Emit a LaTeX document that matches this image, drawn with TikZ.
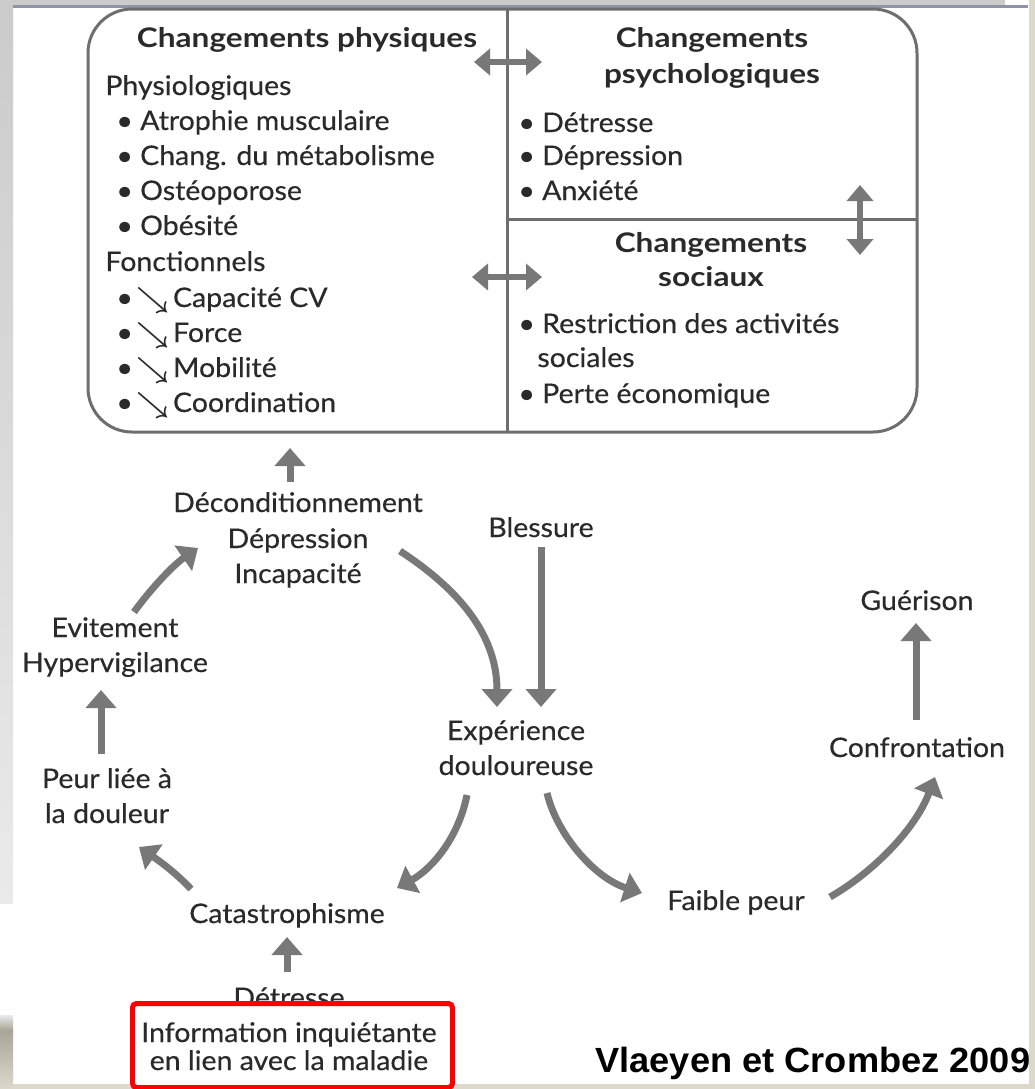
\documentclass[tikz,border=0pt]{standalone}
\usepackage{fontspec}
\setmainfont{Lato}[UprightFeatures={FakeStretch=1.055,FakeBold=0.4}, BoldFeatures={FakeStretch=1.17}]
\newfontfamily\citefont{Liberation Sans}[BoldFeatures={FakeStretch=1.035}]
\usetikzlibrary{arrows.meta}
\definecolor{txt}{HTML}{2A2A2A}
\definecolor{arr}{HTML}{787878}
\definecolor{frame}{HTML}{6E6E6E}
\definecolor{stripgrey}{HTML}{CBCBCB}
\definecolor{stripgreylight}{HTML}{EAEAEA}
\definecolor{barblue}{HTML}{8C94A6}
\definecolor{beige}{HTML}{DDD8CC}
\definecolor{beigedark}{HTML}{A9A597}
% bullet followed by a "decrease" arrow
\newcommand{\dnbullet}{•\kern2pt{\boldmath$\searrow$}\kern1.5pt}
\begin{document}
\begin{tikzpicture}[x=0.5pt,y=-0.5pt,
  lbl/.style={inner sep=0pt, text=txt, font=\fontsize{13.5}{16}\selectfont},
  lblc/.style={lbl, anchor=base},
  lblw/.style={lbl, anchor=base west},
  hdr/.style={lbl, anchor=base, font=\fontsize{13.5}{16}\selectfont\bfseries},
  flow/.style={draw=arr, line width=3.5pt, -{Triangle[width=15pt,length=9pt]}},
  twoway/.style={draw=arr, line width=3pt, {Triangle[width=13pt,length=8pt]}-{Triangle[width=13pt,length=8pt]}},
]
\useasboundingbox (0,0) rectangle (1035,1089);
% page background and window edges
\fill[white] (0,0) rectangle (1035,1089);
\shade[top color=stripgrey, bottom color=stripgreylight] (0,0) rectangle (13,903);
\fill[stripgrey] (0,0) rectangle (1005,5);
\fill[barblue] (13,5) rectangle (1028,8);
\shade[top color=stripgreylight, bottom color=beigedark] (0,1015) rectangle (13,1030);
\shade[top color=beigedark, bottom color=beige] (0,1030) rectangle (13,1089);

% framed panel with three compartments
\draw[frame, line width=1.5pt, rounded corners=22pt] (88,9) rectangle (917,432);
\draw[frame, line width=1.5pt] (507,9) -- (507,432);
\draw[frame, line width=1.5pt] (507,219) -- (917,219);

% physical changes
\node[hdr] (phys) at (307,47) {Changements physiques};
\node[lblw] (physio) at (105,95) {Physiologiques};
\node[lblw] (p1) at (116,130) {• Atrophie musculaire};
\node[lblw] (p2) at (116,165) {• Chang. du métabolisme};
\node[lblw] (p3) at (116,200) {• Ostéoporose};
\node[lblw] (p4) at (116,235) {• Obésité};
\node[lblw] (fonct) at (105,271) {Fonctionnels};
\node[lblw] (f1) at (116,307) {\dnbullet Capacité CV};
\node[lblw] (f2) at (116,342) {\dnbullet Force};
\node[lblw] (f3) at (116,377) {\dnbullet Mobilité};
\node[lblw] (f4) at (116,412) {\dnbullet Coordination};

% psychological changes
\node[hdr] (psyA) at (712,47) {Changements};
\node[hdr] (psyB) at (712,83) {psychologiques};
\node[lblw] (s1) at (518,132) {• Détresse};
\node[lblw] (s2) at (518,165) {• Dépression};
\node[lblw] (s3) at (518,200) {• Anxiété};

% social changes
\node[hdr] (socA) at (711,252) {Changements};
\node[hdr] (socB) at (711,286) {sociaux};
\node[lblw] (c1) at (518,333) {• Restriction des activités};
\node[lblw] (c1b) at (537,367) {sociales};
\node[lblw] (c2) at (518,403) {• Perte économique};

% links between compartments
\coordinate (hA1) at (474,62); \coordinate (hA2) at (542,62);
\coordinate (hB1) at (472,277); \coordinate (hB2) at (542,277);
\coordinate (vA1) at (860,185); \coordinate (vA2) at (860,255);
\draw[twoway] (hA1) -- (hA2);
\draw[twoway] (hB1) -- (hB2);
\draw[twoway] (vA1) -- (vA2);

% fear-avoidance cycle
\node[lblc] (decA) at (298,512) {Déconditionnement};
\node[lblc] (decB) at (298,548) {Dépression};
\node[lblc] (decC) at (298,583) {Incapacité};
\node[lblc] (bles) at (541,537) {Blessure};
\node[lblc] (evitA) at (115,637) {Evitement};
\node[lblc] (evitB) at (115,672) {Hypervigilance};
\node[lblc] (peurA) at (107,788) {Peur liée à};
\node[lblc] (peurB) at (107,823) {la douleur};
\node[lblc] (expA) at (516,740) {Expérience};
\node[lblc] (expB) at (516,775) {douloureuse};
\node[lblc] (gue) at (917,610) {Guérison};
\node[lblc] (conf) at (917,757) {Confrontation};
\node[lblc] (faib) at (736,910) {Faible peur};
\node[lblc] (cata) at (287,923) {Catastrophisme};
\node[lblc] (detr) at (289,1007) {Détresse};

% arrow end points
\coordinate (decUp0) at (290,482);   \coordinate (decUp1) at (290,448);
\coordinate (blesT) at (541,547);    \coordinate (blesH) at (541,707);
\coordinate (decT) at (400,551);     \coordinate (expH) at (497,707);
\coordinate (evitT) at (134,612);    \coordinate (decH) at (198,548);
\coordinate (peurT) at (101,754);    \coordinate (evitH) at (101,690);
\coordinate (cataT) at (191,889);    \coordinate (peurH) at (139,847);
\coordinate (expT1) at (467,795);    \coordinate (cataH) at (397,888);
\coordinate (expT2) at (547,793);    \coordinate (faibH) at (642,893);
\coordinate (faibT) at (830,897);    \coordinate (confH) at (935,777);
\coordinate (confT) at (916,720);    \coordinate (gueH) at (916,623);
\coordinate (detrT) at (287,972);    \coordinate (cataH2) at (287,937);

\draw[flow] (decUp0) -- (decUp1);
\draw[flow] (blesT) -- (blesH);
\draw[flow] (decT) .. controls (452,585) and (497,630) .. (expH);
\draw[flow] (evitT) .. controls (150,590) and (172,566) .. (decH);
\draw[flow] (peurT) -- (evitH);
\draw[flow] (cataT) .. controls (175,872) and (158,860) .. (peurH);
\draw[flow] (expT1) .. controls (458,840) and (430,870) .. (cataH);
\draw[flow] (expT2) .. controls (557,835) and (595,878) .. (faibH);
\draw[flow] (faibT) .. controls (872,873) and (915,830) .. (confH);
\draw[flow] (confT) -- (gueH);
\draw[flow] (detrT) -- (cataH2);

% right and bottom window edges
\fill[beige] (1029,0) rectangle (1035,1089);
\fill[beige] (13,1084) rectangle (1035,1089);

% source note
\node[draw=red, line width=2.5pt, fill=white, rounded corners=2pt,
      minimum width=160pt, minimum height=42pt, inner sep=0pt] (info) at (292.5,1045.5) {};
\node[lblc] (infoA) at (289,1042) {Information inquiétante};
\node[lblc] (infoB) at (289,1070) {en lien avec la maladie};

\begin{scope}
\clip (0,0) rectangle (1029,1084);
\node[anchor=base west, inner sep=0pt, font=\citefont\bfseries\fontsize{17.5}{20}\selectfont] (cite) at (595,1072) {Vlaeyen et Crombez 2009};
\end{scope}
\end{tikzpicture}
\end{document}
